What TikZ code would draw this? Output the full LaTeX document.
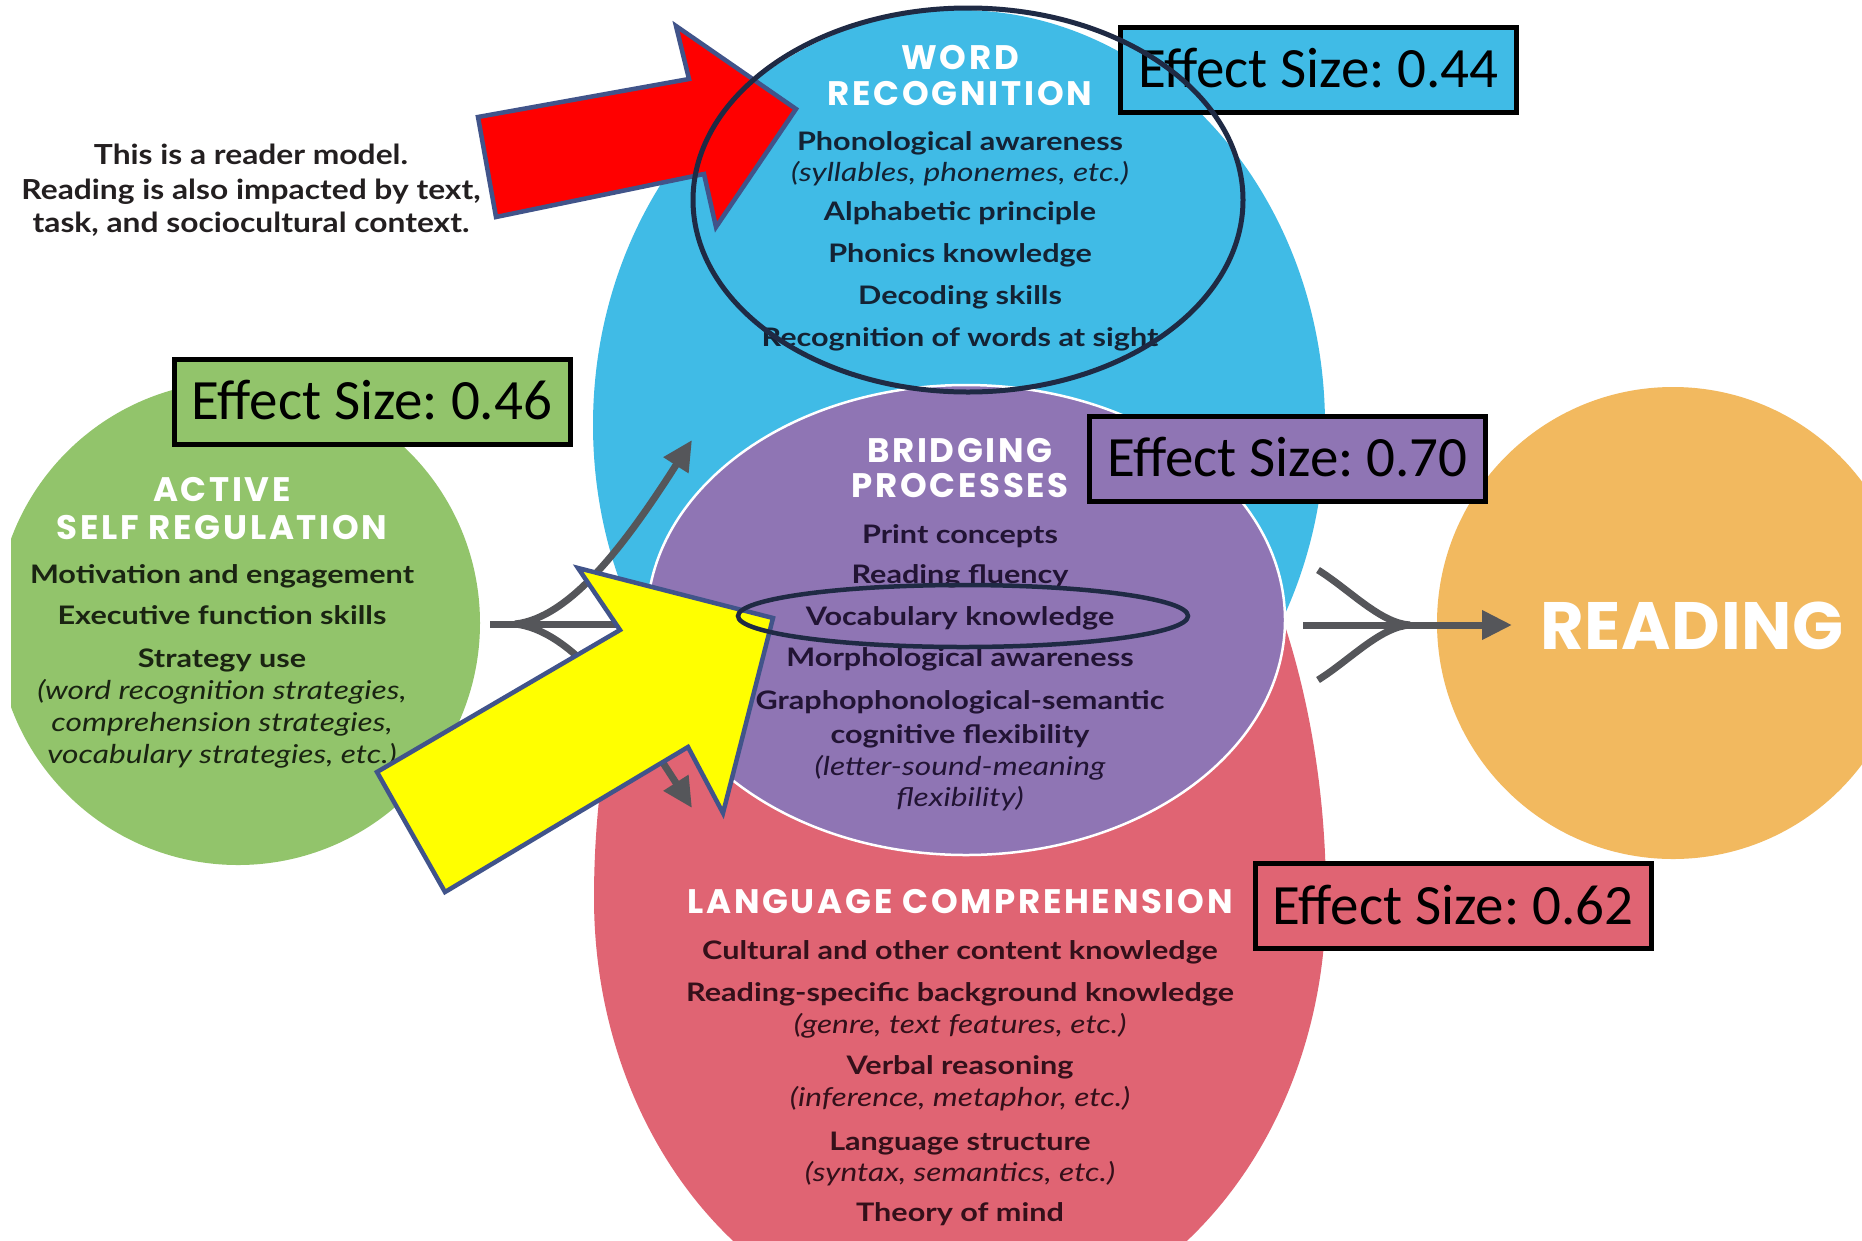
\documentclass[tikz,border=0pt]{standalone}
\usepackage{fontspec}
\usetikzlibrary{arrows.meta}
\newfontfamily\bodyfont{Lato}[FakeStretch=1.2]
\newfontfamily\itfont{Lato}[FakeStretch=1.22]
\newfontfamily\notefont{Lato}[FakeStretch=1.15]
\newfontfamily\headfont{Poppins}[LetterSpace=8]
\newfontfamily\bigfont{Poppins}[LetterSpace=1]
\newfontfamily\boxfont{Carlito}
\definecolor{cblue}{RGB}{64,187,230}
\definecolor{cpurple}{RGB}{143,117,180}
\definecolor{cred}{RGB}{224,100,115}
\definecolor{cgreen}{RGB}{146,196,107}
\definecolor{corange}{RGB}{242,185,95}
\definecolor{cgrey}{RGB}{85,86,90}
\definecolor{cnavy}{RGB}{31,42,68}
\definecolor{coutline}{RGB}{65,84,138}
\definecolor{cyellow}{RGB}{255,255,0}
\definecolor{tblue}{RGB}{20,34,52}
\definecolor{tpurple}{RGB}{34,20,52}
\definecolor{tred}{RGB}{52,16,26}
\definecolor{tgreen}{RGB}{26,36,18}
\definecolor{tnote}{RGB}{35,31,32}
\tikzset{
  bodytxt/.style={font=\bodyfont\bfseries\fontsize{25.5}{27}\selectfont, inner sep=0pt, text height=18pt, text depth=0pt},
  itxt/.style={font=\itfont\itshape\fontsize{26}{28}\selectfont, inner sep=0pt, text height=18.5pt, text depth=0pt},
  notetxt/.style={font=\notefont\bfseries\fontsize{27.6}{30}\selectfont, text=tnote, inner sep=0pt, text height=20pt, text depth=0pt},
  headtxt/.style={font=\headfont\bfseries\fontsize{34}{36}\selectfont, text=white, inner sep=0pt, text height=23.5pt, text depth=0pt},
  bigtxt/.style={font=\bigfont\bfseries\fontsize{67}{70}\selectfont, text=white, inner sep=0pt, text height=47pt, text depth=0pt},
  effbox/.style={draw=black, line width=5pt, font=\boxfont\frenchspacing\fontsize{57}{62}\selectfont, text height=36pt, text depth=0pt, minimum width=396pt, minimum height=85pt, inner sep=0pt},
  fork/.style={draw=cgrey, line width=7pt},
  forktip/.style={fork, -{Triangle[length=30pt,width=28pt]}},
  bigarrow/.style={draw=coutline, line width=4.5pt, line join=miter},
  ring/.style={draw=cnavy, line width=5pt},
}
\begin{document}
\begin{tikzpicture}[x=1pt,y=-1pt]
\useasboundingbox (0,0) rectangle (1862,1240);
\fill[white] (0,0) rectangle (1862,1240);
% circles
\begin{scope}
  \clip (11,0) rectangle (1862,1240);
  \fill[cgreen] (238,623) circle[radius=242];
\end{scope}
\fill[corange] (1673,623) circle[radius=236];
\fill[cred] (1326,898) arc[start angle=0,end angle=180,x radius=366,y radius=437]
  arc[start angle=180,end angle=360,x radius=366,y radius=591] -- cycle;
\begin{scope}
  \clip (0,8) rectangle (1862,1240);
  \fill[cblue] (959,425) ellipse[x radius=366,y radius=415];
\end{scope}
\fill[cpurple, draw=white, line width=2.5pt] (966,620) ellipse[x radius=319,y radius=235];

% note
\node[notetxt] (n1) at (251,154) {This is a reader model.};
\node[notetxt] (n2) at (251,189) {Reading is also impacted by text,};
\node[notetxt] (n3) at (251,222) {task, and sociocultural context.};

% word recognition
\node[headtxt] (wh1) at (960,58) {WORD};
\node[headtxt] (wh2) at (960,94) {RECOGNITION};
\node[bodytxt, text=tblue] (w1) at (960,141.5) {Phonological awareness};
\node[itxt, text=tblue] (w2) at (960,172) {(syllables, phonemes, etc.)};
\node[bodytxt, text=tblue] (w3) at (960,211) {Alphabetic principle};
\node[bodytxt, text=tblue] (w4) at (960,253) {Phonics knowledge};
\node[bodytxt, text=tblue] (w5) at (960,295) {Decoding skills};
\node[bodytxt, text=tblue] (w6) at (960,337) {Recognition of words at sight};

% bridging
\node[headtxt] (bh1) at (960,451) {BRIDGING};
\node[headtxt] (bh2) at (960,486) {PROCESSES};
\node[bodytxt, text=tpurple] (b1) at (960,534) {Print concepts};
\node[bodytxt, text=tpurple] (b2) at (960,574) {Reading fluency};
\node[bodytxt, text=tpurple] (b3) at (960,616) {Vocabulary knowledge};
\node[bodytxt, text=tpurple] (b4) at (960,657) {Morphological awareness};
\node[bodytxt, text=tpurple] (b5) at (960,700) {Graphophonological-semantic};
\node[bodytxt, text=tpurple] (b6) at (960,734) {cognitive flexibility};
\node[itxt, text=tpurple] (b7) at (960,766) {(letter-sound-meaning};
\node[itxt, text=tpurple] (b8) at (960,797) {flexibility)};

% language comprehension
\node[headtxt] (lh) at (960,902) {LANGUAGE COMPREHENSION};
\node[bodytxt, text=tred] (l1) at (960,950) {Cultural and other content knowledge};
\node[bodytxt, text=tred] (l2) at (960,992) {Reading-specific background knowledge};
\node[itxt, text=tred] (l3) at (960,1024) {(genre, text features, etc.)};
\node[bodytxt, text=tred] (l4) at (960,1065) {Verbal reasoning};
\node[itxt, text=tred] (l5) at (960,1097) {(inference, metaphor, etc.)};
\node[bodytxt, text=tred] (l6) at (960,1141) {Language structure};
\node[itxt, text=tred] (l7) at (960,1172) {(syntax, semantics, etc.)};
\node[bodytxt, text=tred] (l8) at (960,1212) {Theory of mind};

% active self regulation
\node[headtxt] (ah1) at (222,490) {ACTIVE};
\node[headtxt] (ah2) at (222,528) {SELF REGULATION};
\node[bodytxt, text=tgreen] (a1) at (222,574) {Motivation and engagement};
\node[bodytxt, text=tgreen] (a2) at (222,615) {Executive function skills};
\node[bodytxt, text=tgreen] (a3) at (222,658) {Strategy use};
\node[itxt, text=tgreen] (a4) at (222,690) {(word recognition strategies,};
\node[itxt, text=tgreen] (a5) at (222,722) {comprehension strategies,};
\node[itxt, text=tgreen] (a6) at (222,754) {vocabulary strategies, etc.)};

% reading
\node[bigtxt] (rd) at (1692,626) {READING};

% forks
\coordinate (lstart) at (490,624);
\coordinate (lfork) at (515,624);
\coordinate (lmid) at (660,624);
\coordinate (lup) at (692,440);
\coordinate (ldn) at (692,808);
\draw[fork] (lstart) -- (lmid);
\draw[forktip] (lfork) .. controls (570,618) and (625,545) .. (lup);
\draw[forktip] (lfork) .. controls (570,630) and (625,703) .. (ldn);

\coordinate (rstart) at (1303,625);
\coordinate (rend) at (1512,625);
\coordinate (rjoin) at (1410,625);
\coordinate (rup) at (1318,570);
\coordinate (rdn) at (1318,680);
\draw[forktip] (rstart) -- (rend);
\draw[fork] (rup) .. controls (1350,590) and (1380,623) .. (rjoin);
\draw[fork] (rdn) .. controls (1350,660) and (1380,627) .. (rjoin);

% effect boxes
\node[effbox, fill=cblue] (e44) at (1318.5,69.5) {Effect Size: 0.44};
\node[effbox, fill=cgreen] (e46) at (372,401.5) {Effect Size: 0.46};
\node[effbox, fill=cpurple] (e70) at (1287.5,458.5) {Effect Size: 0.70};
\node[effbox, fill=cred] (e62) at (1453,906) {Effect Size: 0.62};

% red arrow and ring
\draw[bigarrow, fill=red] (478,117) -- (689,79) -- (676,26) -- (796,109) -- (716,227) -- (704,174) -- (496,217) -- cycle;
\draw[ring] (968,200) ellipse[x radius=275,y radius=192];

% yellow arrow and ring
\draw[bigarrow, fill=cyellow] (377,772) -- (620,630) -- (578,568) -- (773,618) -- (723,813) -- (688,747) -- (445,892) -- cycle;
\draw[ring, line width=4.5pt] (963,616) ellipse[x radius=225,y radius=31];
\end{tikzpicture}
\end{document}
